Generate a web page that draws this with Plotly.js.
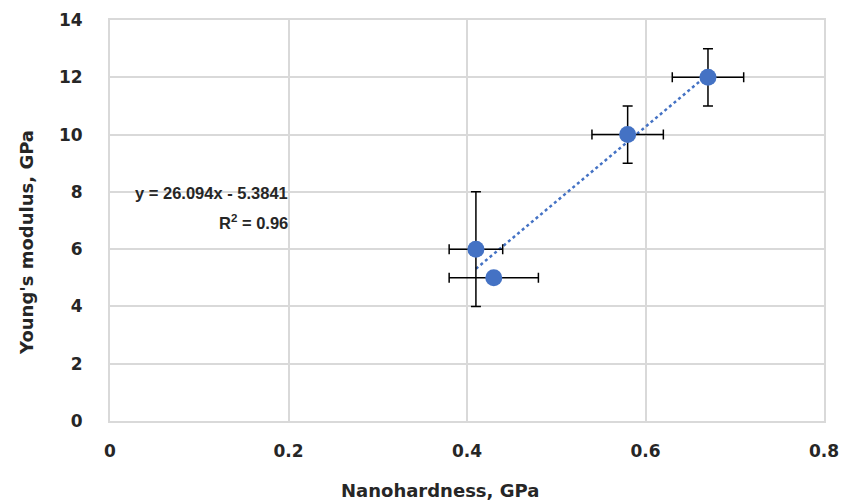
<!DOCTYPE html>
<html>
<head>
<meta charset="utf-8">
<script src="https://cdn.plot.ly/plotly-3.0.1.min.js"></script>
<style>html,body{margin:0;padding:0;background:#fff;}#chart{width:843px;height:502px;}</style>
</head>
<body>
<div id="chart"></div>
<script>
// Data
const hardness = [0.41, 0.43, 0.58, 0.67];
const modulus = [6, 5, 10, 12];
const hardnessErr = [0.03, 0.05, 0.04, 0.04];
const modulusErr = [2, 0, 1, 1];
const trendSlope = 26.094;
const trendIntercept = -5.3841;
const trendX = [0.41, 0.67];
const trendY = trendX.map(x => trendSlope * x + trendIntercept);
const xTicks = [0, 0.2, 0.4, 0.6, 0.8];
const xTickText = ['0', '0.2', '0.4', '0.6', '0.8'];
const yTicks = [0, 2, 4, 6, 8, 10, 12, 14];

const wideFont = 'DejaVu Sans, Verdana, sans-serif';
const narrowFont = 'Liberation Sans, Arial, sans-serif';
const textColor = '#262626';
const blue = '#4472C4';
const grid = '#d9d9d9';

const traces = [
  {
    x: trendX, y: trendY, mode: 'lines', type: 'scatter',
    line: {color: blue, width: 2.5, dash: 'dot'}, hoverinfo: 'skip', showlegend: false
  },
  {
    x: hardness, y: modulus, mode: 'markers', type: 'scatter',
    marker: {color: blue, size: 17},
    error_x: {type: 'data', array: hardnessErr, visible: true, color: '#000', thickness: 1.5, width: 5},
    error_y: {type: 'data', array: modulusErr, visible: true, color: '#000', thickness: 1.5, width: 5},
    showlegend: false
  }
];

const layout = {
  width: 843, height: 502,
  margin: {l: 110, r: 19, t: 20, b: 81},
  paper_bgcolor: '#fff', plot_bgcolor: '#fff',
  font: {family: wideFont, size: 17, color: textColor},
  xaxis: {
    range: [0, 0.8], tickvals: xTicks, ticktext: xTickText,
    showgrid: true, gridcolor: grid, gridwidth: 2,
    zeroline: false, showline: true, linecolor: grid, linewidth: 2, mirror: true,
    ticks: '', ticklabelstandoff: 14,
    tickfont: {family: wideFont, size: 17, color: textColor, weight: 'bold'}
  },
  yaxis: {
    range: [0, 14], tickvals: yTicks,
    showgrid: true, gridcolor: grid, gridwidth: 2,
    zeroline: false, showline: true, linecolor: grid, linewidth: 2, mirror: true,
    ticks: '', ticklabelstandoff: 22,
    tickfont: {family: wideFont, size: 17, color: textColor, weight: 'bold'}
  },
  annotations: [
    {
      xref: 'paper', yref: 'paper', x: (440 - 110) / 714, y: (421 - 490) / 401,
      xanchor: 'center', yanchor: 'middle', showarrow: false,
      text: '<b>Nanohardness, GPa</b>',
      font: {family: wideFont, size: 18, color: textColor}
    },
    {
      xref: 'paper', yref: 'paper', x: (26 - 110) / 714, y: (421 - 243) / 401,
      xanchor: 'center', yanchor: 'middle', showarrow: false, textangle: -90,
      text: "<b>Young's modulus, GPa</b>",
      font: {family: wideFont, size: 18, color: textColor}
    },
    {
      xref: 'paper', yref: 'paper', x: (290 - 110) / 714, y: (421 - 193) / 401,
      xanchor: 'right', yanchor: 'middle', showarrow: false,
      text: '<b>y = 26.094x - 5.3841</b>',
      font: {family: narrowFont, size: 16.5, color: textColor}
    },
    {
      xref: 'paper', yref: 'paper', x: (290 - 110) / 714, y: (421 - 222) / 401,
      xanchor: 'right', yanchor: 'middle', showarrow: false,
      text: '<b>R<sup>2</sup> = 0.96</b>',
      font: {family: narrowFont, size: 16.5, color: textColor}
    }
  ]
};

Plotly.newPlot('chart', traces, layout, {displayModeBar: false, staticPlot: true});
</script>
</body>
</html>
